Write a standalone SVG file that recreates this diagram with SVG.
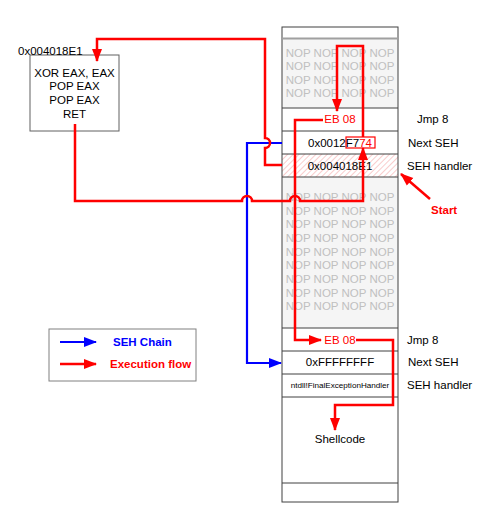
<svg xmlns="http://www.w3.org/2000/svg" width="484" height="507" viewBox="0 0 484 507">
<defs>
<style>
text{font-family:"Liberation Sans",Arial,sans-serif;font-size:11.5px;fill:#000}
.nop{fill:#c0c0c0;text-anchor:middle}
.c{text-anchor:middle}
.red{fill:#ff0000}
.b{font-weight:bold}
.rl{fill:none;stroke:#ff0000;stroke-width:2.5}
.bl{fill:none;stroke:#0000ff;stroke-width:2.2}
.sep{stroke:#404040;stroke-width:1}
</style>
<marker id="ar" markerUnits="userSpaceOnUse" markerWidth="13" markerHeight="13" viewBox="0 0 13 13" refX="12" refY="6.5" orient="auto">
<path d="M0,1.5 L13,6.5 L0,11.5 Z" fill="#ff0000"/>
</marker>
<marker id="ab" markerUnits="userSpaceOnUse" markerWidth="13" markerHeight="13" viewBox="0 0 13 13" refX="12" refY="6.5" orient="auto">
<path d="M0,1.5 L13,6.5 L0,11.5 Z" fill="#0000ff"/>
</marker>
<pattern id="hatch" patternUnits="userSpaceOnUse" width="4" height="4" patternTransform="rotate(45)">
<line x1="0" y1="0" x2="0" y2="4" stroke="#f39a9a" stroke-width="1"/>
</pattern>
</defs>
<rect width="484" height="507" fill="#ffffff"/>

<g id="stack">
<rect x="282" y="38" width="116" height="70" fill="#f5f5f5"/>
<rect x="282" y="177" width="116" height="151" fill="#f5f5f5"/>
<rect x="282" y="154" width="116" height="23" fill="url(#hatch)"/>
<rect x="282" y="27" width="116" height="475" fill="none" stroke="#404040" stroke-width="1"/>
<line x1="282" y1="38.5" x2="398" y2="38.5" stroke="#a0a0a0" stroke-width="2"/>
<line class="sep" x1="282" y1="108" x2="398" y2="108"/>
<line class="sep" x1="282" y1="131" x2="398" y2="131"/>
<line class="sep" x1="282" y1="154" x2="398" y2="154"/>
<line class="sep" x1="282" y1="177" x2="398" y2="177"/>
<line class="sep" x1="282" y1="328" x2="398" y2="328"/>
<line class="sep" x1="282" y1="351" x2="398" y2="351"/>
<line class="sep" x1="282" y1="374" x2="398" y2="374"/>
<line class="sep" x1="282" y1="397" x2="398" y2="397"/>
<line class="sep" x1="282" y1="483" x2="398" y2="483"/>
<text class="nop" x="340" y="56.5">NOP NOP NOP NOP</text>
<text class="nop" x="340" y="70">NOP NOP NOP NOP</text>
<text class="nop" x="340" y="83.5">NOP NOP NOP NOP</text>
<text class="nop" x="340" y="97">NOP NOP NOP NOP</text>
<text class="nop" x="340" y="201">NOP NOP NOP NOP</text>
<text class="nop" x="340" y="214.5">NOP NOP NOP NOP</text>
<text class="nop" x="340" y="228">NOP NOP NOP NOP</text>
<text class="nop" x="340" y="242">NOP NOP NOP NOP</text>
<text class="nop" x="340" y="255.5">NOP NOP NOP NOP</text>
<text class="nop" x="340" y="269">NOP NOP NOP NOP</text>
<text class="nop" x="340" y="283">NOP NOP NOP NOP</text>
<text class="nop" x="340" y="296.5">NOP NOP NOP NOP</text>
<text class="nop" x="340" y="310">NOP NOP NOP NOP</text>
<text class="c red" x="340" y="123">EB 08</text>
<rect x="346" y="137" width="29" height="11" fill="none" stroke="#ff0000" stroke-width="1.2"/>
<text class="c" x="340" y="147">0x0012F7<tspan class="red">74</tspan></text>
<text class="c" x="340" y="170">0x004018E1</text>
<text class="c red" x="340" y="344">EB 08</text>
<text class="c" x="340" y="366">0xFFFFFFFF</text>
<text class="c" x="340" y="388" style="font-size:8.1px">ntdll!FinalExceptionHandler</text>
<text class="c" x="340" y="443">Shellcode</text>
</g>

<g id="labels">
<text x="417" y="123">Jmp 8</text>
<text x="408" y="147">Next SEH</text>
<text x="407" y="170">SEH handler</text>
<text x="407" y="344">Jmp 8</text>
<text x="408" y="366">Next SEH</text>
<text x="407" y="389">SEH handler</text>
<text class="b red" x="431" y="214">Start</text>
</g>

<g id="gadget">
<rect x="30" y="55" width="89" height="76" fill="#ffffff" stroke="#606060" stroke-width="1"/>
<text x="18" y="55">0x004018E1</text>
<text class="c" x="74.5" y="76.5">XOR EAX, EAX</text>
<text class="c" x="74.5" y="90">POP EAX</text>
<text class="c" x="74.5" y="103.5">POP EAX</text>
<text class="c" x="74.5" y="117.5">RET</text>
</g>

<g id="legend">
<rect x="49" y="329" width="147" height="52" fill="#ffffff" stroke="#808080" stroke-width="1"/>
<line class="bl" x1="60" y1="342" x2="96" y2="342" marker-end="url(#ab)"/>
<line class="rl" x1="60" y1="364" x2="96" y2="364" marker-end="url(#ar)"/>
<text class="b" x="113" y="346" style="fill:#0000ff">SEH Chain</text>
<text class="b red" x="110" y="368">Execution flow</text>
</g>

<g id="connectors">
<path class="bl" d="M282,143 H247 V363 H281" marker-end="url(#ab)"/>
<path class="rl" d="M282,165 H265 V148 A5,5 0 0 0 265,138 V39 H97 V61" marker-end="url(#ar)"/>
<path class="rl" d="M75,124 V201 H242 A5,5 0 0 1 252,201 H290 A5,5 0 0 1 300,201 H363 V148" marker-end="url(#ar)"/>
<path class="rl" d="M363,137 V46 H337 V111" marker-end="url(#ar)"/>
<path class="rl" d="M323,120 H295 V340 H321" marker-end="url(#ar)"/>
<path class="rl" d="M356,340 H393 V405 H335 V430" marker-end="url(#ar)"/>
<path class="rl" d="M430,199 L401,174" marker-end="url(#ar)"/>
</g>
</svg>
